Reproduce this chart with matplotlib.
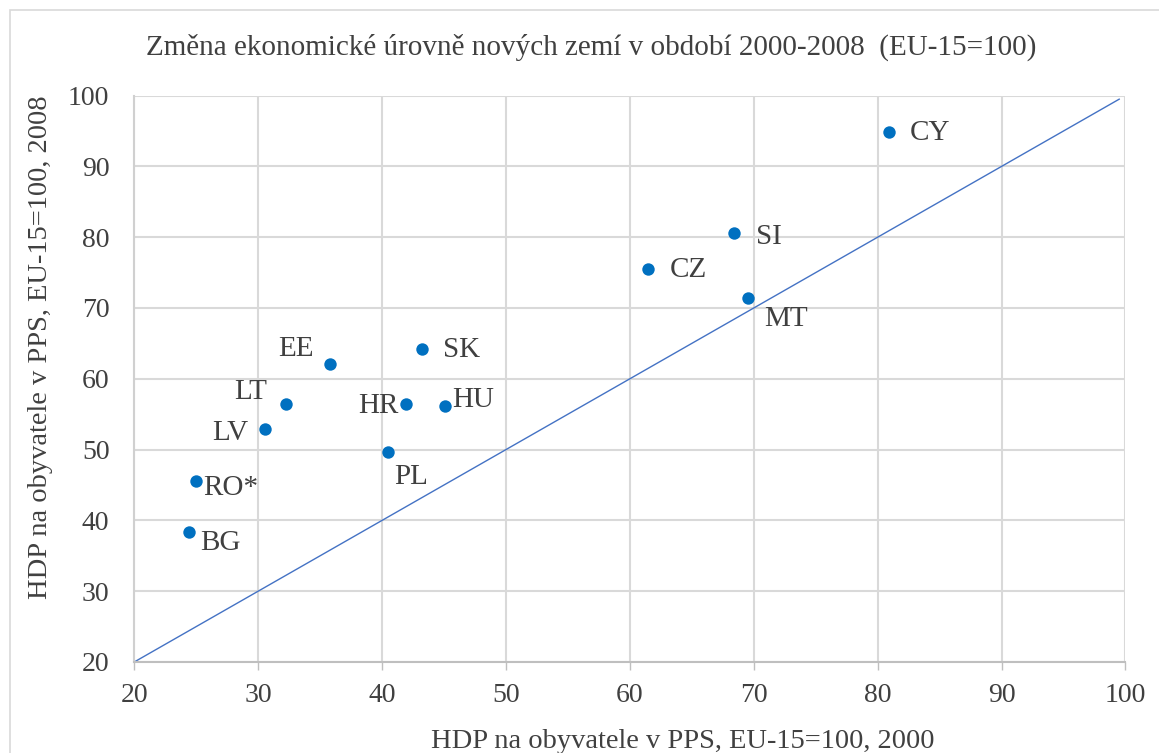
import matplotlib.pyplot as plt
from matplotlib.patches import Rectangle

plt.rcParams['font.family'] = ['Liberation Serif', 'DejaVu Serif']

# data
countries = ['CY', 'SI', 'CZ', 'MT', 'SK', 'EE', 'HR', 'HU', 'LT', 'LV', 'PL', 'RO*', 'BG']
gdp_2000 = [80.9, 68.4, 61.5, 69.5, 43.2, 35.8, 41.9, 45.1, 32.2, 30.5, 40.5, 25.0, 24.4]
gdp_2008 = [94.9, 80.6, 75.5, 71.4, 64.2, 62.1, 56.5, 56.2, 56.4, 52.9, 49.7, 45.6, 38.3]
diag_x = [20, 99.5]
diag_y = [20, 99.5]

# label offsets in points (dx, dy, ha)
label_pos = {
    'CY': (15, -1, 'left'), 'SI': (16, -3, 'left'), 'CZ': (15, -1, 'left'),
    'MT': (12, -15, 'left'), 'SK': (15, -1, 'left'), 'EE': (-12, 11, 'right'),
    'HR': (-5, -2, 'right'), 'HU': (5, 4, 'left'), 'LT': (-13, 9, 'right'),
    'LV': (-12, -3, 'right'), 'PL': (4, -18, 'left'), 'RO*': (5, -5, 'left'),
    'BG': (8, -8, 'left'),
}

txt = '#404040'
fig = plt.figure(figsize=(11.59, 7.53), dpi=100)
ax = fig.add_axes([0.116, 0.121, 0.855, 0.752])

# outer chart border
fig.patches.append(Rectangle((10 / 1159, -0.1), 1.2, 1 - 10 / 753 + 0.1,
                             transform=fig.transFigure, fill=False,
                             edgecolor='#D9D9D9', linewidth=1.2))

ax.plot(diag_x, diag_y, color='#4472C4', linewidth=1, zorder=2)
ax.scatter(gdp_2000, gdp_2008, s=80, color='#0070C0', zorder=3, linewidths=0)

for c, x, y in zip(countries, gdp_2000, gdp_2008):
    dx, dy, ha = label_pos[c]
    ax.annotate(c, (x, y), xytext=(dx, dy), textcoords='offset points',
                ha=ha, va='center', fontsize=21, color=txt)

ax.set_xlim(20, 100)
ax.set_ylim(20, 100)
ax.set_xticks(range(20, 101, 10))
ax.set_yticks(range(20, 101, 10))
ax.grid(True, color='#D9D9D9', linewidth=1.5)
ax.set_axisbelow(True)
for s in ['top', 'right']:
    ax.spines[s].set_visible(False)
ax.spines['left'].set_color('#D0D0D0')
ax.spines['bottom'].set_color('#BFBFBF')
ax.spines['left'].set_linewidth(1.5)
ax.spines['bottom'].set_linewidth(1.5)
ax.tick_params(axis='x', length=6, width=1, color='#BFBFBF', labelsize=20,
               labelcolor=txt, pad=9)
ax.tick_params(axis='y', length=0, labelsize=20, labelcolor=txt, pad=18)

ax.set_xlabel('HDP na obyvatele v PPS, EU-15=100, 2000', fontsize=20.5, color=txt)
ax.set_ylabel('HDP na obyvatele v PPS, EU-15=100, 2008', fontsize=20.5, color=txt)
ax.xaxis.set_label_coords(0.553, -0.118)
ax.yaxis.set_label_coords(-0.082, 0.556)
fig.text(0.51, 0.937, 'Změna ekonomické úrovně nových zemí v období 2000-2008  (EU-15=100)',
         ha='center', va='center', fontsize=21, color=txt)

fig.savefig('out.png', dpi=100)
